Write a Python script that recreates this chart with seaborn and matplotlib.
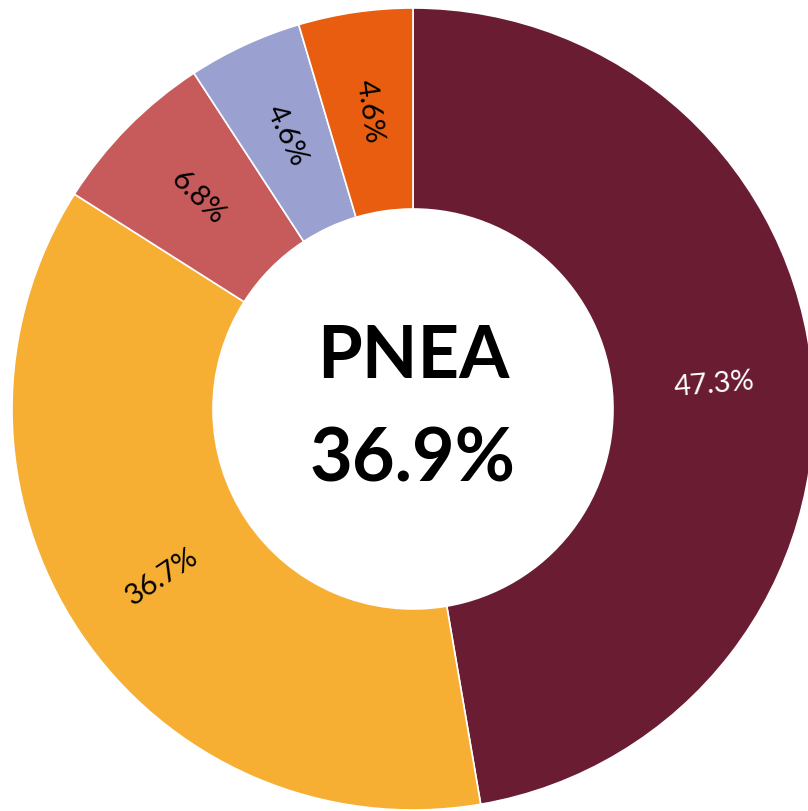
import matplotlib.pyplot as plt
import numpy as np
import seaborn as sns

sns.set_theme(style="white")
plt.rcParams["font.family"] = ["Open Sans", "DejaVu Sans"]

labels = ["47.3%", "36.7%", "6.8%", "4.6%", "4.6%"]
shares = [47.3, 36.7, 6.8, 4.6, 4.6]
colors = ["#6A1C33", "#F6AF33", "#C75A5A", "#9AA0CF", "#E85D0F"]
text_colors = ["white", "black", "black", "black", "black"]
center_title = "PNEA"
center_value = "36.9%"

fig = plt.figure(figsize=(8.08, 8.12), dpi=100)
ax = fig.add_axes([0, 0, 1, 1])

cx, cy, r_out, r_in = 413, 402, 401, 200
wedges, _ = ax.pie(shares, colors=colors, startangle=90, counterclock=False,
                   radius=r_out, center=(cx, cy),
                   wedgeprops=dict(width=r_out - r_in, edgecolor="white", linewidth=1.2))

r_lab = 302
for w, lab, tc in zip(wedges, labels, text_colors):
    ang = (w.theta1 + w.theta2) / 2
    x = cx + r_lab * np.cos(np.radians(ang))
    y = cy + r_lab * np.sin(np.radians(ang))
    rot = ang % 360
    if 90 < rot < 270:
        rot -= 180
    elif rot >= 270:
        rot -= 360
    ax.text(x, y, lab, color=tc, fontsize=21, rotation=rot, rotation_mode="anchor",
            ha="center", va="center", family=["Lato", "DejaVu Sans"])

ax.text(cx, cy + 52, center_title, fontsize=52, fontweight="bold", color="black",
        family=["Lato", "DejaVu Sans"], ha="center", va="center")
ax.text(cx, cy - 50, center_value, fontsize=53, fontweight="bold", color="black",
        family=["Lato", "DejaVu Sans"], ha="center", va="center")

ax.set_xlim(0, 808)
ax.set_ylim(0, 812)
ax.set_aspect("equal")
ax.axis("off")
fig.savefig("out.png", dpi=100, facecolor="white")
